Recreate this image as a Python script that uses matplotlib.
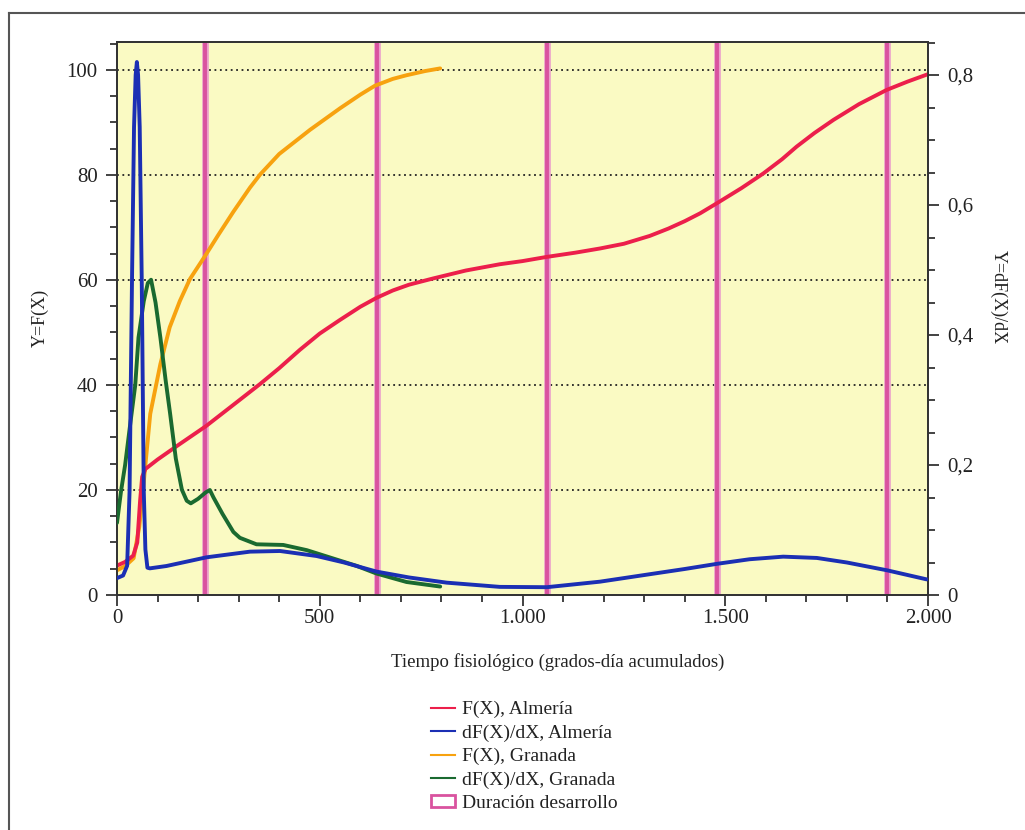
import matplotlib
matplotlib.use("Agg")
import matplotlib.pyplot as plt
from matplotlib.lines import Line2D
from matplotlib.patches import Patch
from matplotlib.ticker import FixedLocator, MultipleLocator

# ---------------- data ----------------
# F(X), Almería  (left axis, %)
alm_F_x = [0, 20, 40, 50, 57, 62, 70, 100, 150, 220, 280, 353, 400, 451, 500, 550,
           600, 640, 680, 720, 780, 860, 944, 1000, 1060, 1130, 1191, 1250, 1314,
           1360, 1400, 1438, 1479, 1540, 1594, 1640, 1676, 1720, 1767, 1830, 1898,
           1950, 2000]
alm_F_y = [5.6, 6.3, 7.5, 10, 18, 22.5, 24, 25.8, 28.5, 32.2, 35.8, 40.2, 43.2, 46.7,
           49.8, 52.4, 54.9, 56.6, 58.0, 59.1, 60.3, 61.8, 63, 63.6, 64.4, 65.2, 66,
           66.9, 68.4, 69.8, 71.2, 72.7, 74.6, 77.5, 80.3, 83, 85.4, 88, 90.5, 93.5,
           96.2, 97.8, 99.2]

# dF(X)/dX, Almería (right axis)
alm_d_x = [0, 15, 25, 31, 37, 42, 46, 49, 52, 56, 61, 66, 70, 75, 81, 122, 221, 328,
           402, 492, 560, 640, 720, 813, 944, 1060, 1191, 1314, 1400, 1480, 1560,
           1643, 1726, 1800, 1899, 1997]
alm_d_y = [0.026, 0.03, 0.045, 0.16, 0.485, 0.72, 0.8, 0.82, 0.8, 0.72, 0.485, 0.16,
           0.07, 0.042, 0.041, 0.0446, 0.058, 0.0667, 0.0677, 0.06, 0.05, 0.036,
           0.027, 0.019, 0.0125, 0.012, 0.0205, 0.032, 0.040, 0.048, 0.055, 0.059,
           0.057, 0.05, 0.038, 0.024]

# F(X), Granada (left axis, %)
gra_F_x = [0, 20, 41, 55, 66, 82, 107, 130, 155, 180, 219, 250, 287, 328, 353, 400,
           476, 550, 600, 636, 680, 714, 760, 797]
gra_F_y = [4.7, 5.5, 7, 13, 21.5, 34.5, 44, 51, 56.0, 60.2, 64.8, 68.6, 73, 77.6,
           80.1, 84, 88.6, 92.7, 95.3, 97.0, 98.3, 99, 99.8, 100.3]

# dF(X)/dX, Granada (right axis)
gra_d_x = [0, 10, 20, 30, 45, 53, 66, 76, 84, 95, 107, 120, 131, 145, 160, 172, 182,
           200, 219, 229, 238, 260, 287, 303, 344, 410, 468, 534, 590, 640, 714, 797]
gra_d_y = [0.111, 0.16, 0.2, 0.25, 0.323, 0.396, 0.452, 0.48, 0.485, 0.45, 0.396,
           0.33, 0.279, 0.21, 0.162, 0.145, 0.141, 0.148, 0.158, 0.1615, 0.15, 0.125,
           0.097, 0.088, 0.078, 0.077, 0.069, 0.056, 0.045, 0.033, 0.02, 0.013]

# Duración desarrollo (vertical lines)
durations = [217, 640, 1060, 1480, 1900]

x_ticks = [0, 500, 1000, 1500, 2000]
x_tick_labels = ["0", "500", "1.000", "1.500", "2.000"]
left_ticks = [0, 20, 40, 60, 80, 100]
right_ticks = [0, 0.2, 0.4, 0.6, 0.8]
right_tick_labels = ["0", "0,2", "0,4", "0,6", "0,8"]

labels = ["F(X), Almería", "dF(X)/dX, Almería", "F(X), Granada",
          "dF(X)/dX, Granada", "Duración desarrollo"]

# ---------------- style ----------------
plt.rcParams['font.family'] = ['Liberation Serif', 'DejaVu Serif']
C_RED = '#ec1f4b'
C_BLUE = '#1b2fb4'
C_ORANGE = '#f7a20f'
C_GREEN = '#1a6a30'
C_MAG = '#d9539f'
C_BG = '#fafac3'
C_TXT = '#222222'

fig = plt.figure(figsize=(10.25, 8.3), dpi=100)
ax = fig.add_axes([117/1025, 1-595/830, (928-117)/1025, (595-42)/830])
ax.set_facecolor(C_BG)
ax2 = ax.twinx()

ax.set_xlim(0, 2000)
ax.set_ylim(0, 105.33)
ax2.set_ylim(0, 0.8508)

# gridlines (left axis)
for g in [20, 40, 60, 80, 100]:
    ax.axhline(g, color=C_TXT, lw=1.3, ls=(0, (1, 2.0)), zorder=1)

# duration lines
for d in durations:
    ax.axvline(d, color='#eba0cb', lw=4.8, zorder=2)
    ax.axvline(d, color=C_MAG, lw=2.8, zorder=2)

lw = 2.8
ax.plot(alm_F_x, alm_F_y, color=C_RED, lw=lw, zorder=5, solid_capstyle='round',
        solid_joinstyle='round')
ax.plot(gra_F_x, gra_F_y, color=C_ORANGE, lw=lw, zorder=4, solid_capstyle='round',
        solid_joinstyle='round')
ax2.plot(gra_d_x, gra_d_y, color=C_GREEN, lw=lw, zorder=4, solid_capstyle='round',
         solid_joinstyle='round')
ax2.plot(alm_d_x, alm_d_y, color=C_BLUE, lw=lw, zorder=5, solid_capstyle='round',
         solid_joinstyle='round')

# ticks
ax.xaxis.set_major_locator(FixedLocator(x_ticks))
ax.set_xticklabels(x_tick_labels)
ax.xaxis.set_minor_locator(MultipleLocator(100))
ax.yaxis.set_major_locator(FixedLocator(left_ticks))
ax.yaxis.set_minor_locator(MultipleLocator(5))
ax2.yaxis.set_major_locator(FixedLocator(right_ticks))
ax2.set_yticklabels(right_tick_labels)
ax2.yaxis.set_minor_locator(MultipleLocator(0.05))

for a in (ax, ax2):
    a.tick_params(which='major', direction='out', length=8, width=1.2, labelsize=15,
                  color=C_TXT, labelcolor=C_TXT, pad=6)
    a.tick_params(which='minor', direction='out', length=5, width=1.2, color=C_TXT)
    for s in a.spines.values():
        s.set_color('#333333')
        s.set_linewidth(1.3)
ax.tick_params(axis='x', pad=2)

ax.set_xlabel("Tiempo fisiológico (grados-día acumulados)", fontsize=13.5, color=C_TXT)
ax.xaxis.set_label_coords((558-117)/811, -(662-595)/553, transform=ax.transAxes)
ax.xaxis.label.set_va('center')
ax.set_ylabel("Y=F(X)", fontsize=13, color=C_TXT)
ax.yaxis.set_label_coords(-(117-40)/811, (595-318)/553)
ax.yaxis.label.set_va('center')
ax2.set_ylabel("Y=dF(X)/dX", fontsize=13, color=C_TXT, rotation=-90)
ax2.yaxis.set_label_coords((999-117)/811, (595-297)/553)
ax2.yaxis.label.set_va('center')

# legend
handles = [Line2D([], [], color=C_RED, lw=1.5),
           Line2D([], [], color=C_BLUE, lw=1.5),
           Line2D([], [], color=C_ORANGE, lw=1.5),
           Line2D([], [], color=C_GREEN, lw=1.5),
           Patch(facecolor='white', edgecolor=C_MAG, lw=2)]
fig.legend(handles, labels, loc='upper left', bbox_to_anchor=(431/1025, 1-701/830),
           frameon=False, fontsize=14, handlelength=1.25, handleheight=0.55,
           handletextpad=0.35, labelspacing=0.32, borderaxespad=0, borderpad=0,
           labelcolor=C_TXT)

# page frame
fig.add_artist(Line2D([9/1025, 9/1025], [0, 1-13/830], color='#555555', lw=1.5,
                      transform=fig.transFigure))
fig.add_artist(Line2D([9/1025, 1], [1-13/830, 1-13/830], color='#555555', lw=1.5,
                      transform=fig.transFigure))

fig.savefig("out.png", dpi=100, facecolor='white')
